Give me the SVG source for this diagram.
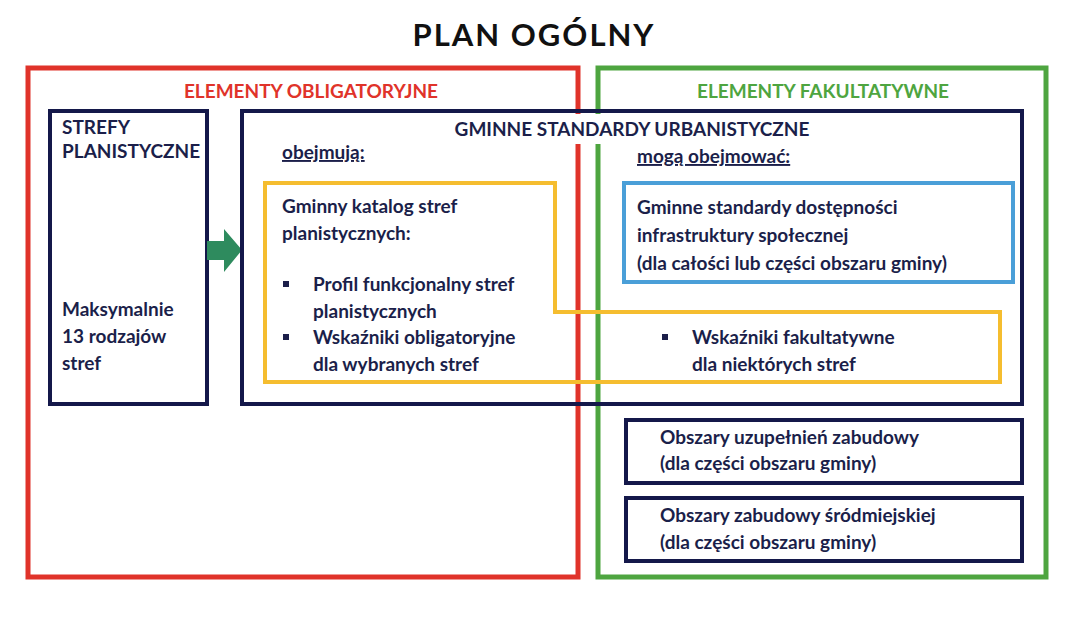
<svg xmlns="http://www.w3.org/2000/svg" width="1068" height="638" viewBox="0 0 1068 638">
<style>
text{font-family:Lato,"Open Sans","Liberation Sans",sans-serif;font-weight:bold;fill:#1b1f4a;font-size:19px}
.nv{fill:none;stroke:#14184a;stroke-width:4}
</style>
<rect width="1068" height="638" fill="#fff"/>
<text x="534" y="46" text-anchor="middle" style="font-size:31px;letter-spacing:2px;fill:#111">PLAN OGÓLNY</text>
<g id="obligatoryjne"><rect x="28" y="68" width="550" height="509" fill="none" stroke="#e0332a" stroke-width="5"/>
<text x="311" y="98" text-anchor="middle" style="fill:#e0332a">ELEMENTY OBLIGATORYJNE</text></g>
<g id="fakultatywne"><rect x="598" y="68" width="448" height="509" fill="none" stroke="#4ea540" stroke-width="5"/>
<text x="823" y="98" text-anchor="middle" style="fill:#4ea540">ELEMENTY FAKULTATYWNE</text></g>
<g id="strefy"><rect x="50" y="111" width="157" height="293" fill="#fff" class="nv" style="fill:#fff"/>
<text x="62" y="134">STREFY</text><text x="62" y="158">PLANISTYCZNE</text>
<text x="62" y="316">Maksymalnie</text><text x="62" y="343">13 rodzajów</text><text x="62" y="370">stref</text></g>
<g id="connectors"><polygon points="207,241 224,241 224,229 242,250 224,272 224,260 207,260" fill="#2e8b5e"/></g>
<g id="gsu"><rect x="242" y="111" width="780" height="293" class="nv"/>
<rect x="420" y="114" width="380" height="30" fill="#fff"/>
<text x="632" y="136" text-anchor="middle">GMINNE STANDARDY URBANISTYCZNE</text>
<text x="282" y="159" text-decoration="underline">obejmują:</text>
<text x="637" y="163" text-decoration="underline">mogą obejmować:</text></g>
<g id="katalog"><polygon points="265,183 555,183 555,312 1000,312 1000,382 265,382" fill="none" stroke="#f5bd2f" stroke-width="4"/>
<text x="282" y="213">Gminny katalog stref</text><text x="282" y="240">planistycznych:</text>
<rect x="283" y="281" width="6" height="6" fill="#1b1f4a"/>
<text x="313" y="291">Profil funkcjonalny stref</text><text x="313" y="318">planistycznych</text>
<rect x="283" y="334" width="6" height="6" fill="#1b1f4a"/>
<text x="313" y="344">Wskaźniki obligatoryjne</text><text x="313" y="371">dla wybranych stref</text>
<rect x="662" y="334" width="6" height="6" fill="#1b1f4a"/>
<text x="692" y="344">Wskaźniki fakultatywne</text><text x="692" y="371">dla niektórych stref</text></g>
<g id="dostepnosc"><rect x="624" y="183" width="389" height="99" fill="none" stroke="#4a9fd8" stroke-width="4"/>
<text x="637" y="214">Gminne standardy dostępności</text><text x="637" y="242">infrastruktury społecznej</text><text x="637" y="270">(dla całości lub części obszaru gminy)</text></g>
<g id="uzupelnien"><rect x="626" y="420" width="396" height="63" class="nv"/>
<text x="660" y="444">Obszary uzupełnień zabudowy</text><text x="660" y="470">(dla części obszaru gminy)</text></g>
<g id="srodmiejskiej"><rect x="626" y="498" width="396" height="63" class="nv"/>
<text x="660" y="522">Obszary zabudowy śródmiejskiej</text><text x="660" y="549">(dla części obszaru gminy)</text></g>
</svg>
